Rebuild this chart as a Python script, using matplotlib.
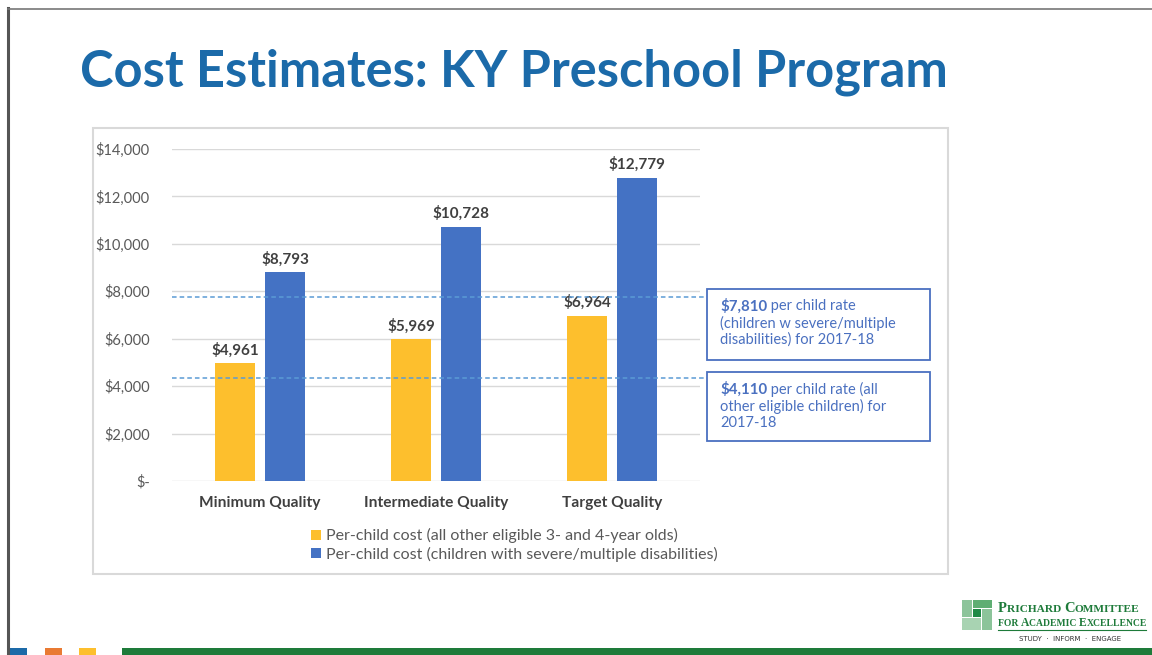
import matplotlib.pyplot as plt
import matplotlib.patches as mpatches
import numpy as np

W, H = 1152, 655

categories = ['Minimum Quality', 'Intermediate Quality', 'Target Quality']
cost_other = [4961, 5969, 6964]
cost_disab = [8793, 10728, 12779]
series_names = ['Per-child cost (all other eligible 3- and 4-year olds)',
                'Per-child cost (children with severe/multiple disabilities)']
# reference rates, as drawn in the picture
rate_disab_drawn = 7780
rate_other_drawn = 4350
yticks = [0, 2000, 4000, 6000, 8000, 10000, 12000, 14000]
ytick_labels = ['$-', '$2,000', '$4,000', '$6,000', '$8,000', '$10,000', '$12,000', '$14,000']

YELLOW = '#FDBF2D'
BLUE = '#4472C4'
TITLE_BLUE = '#1B6AA9'
NOTE_BLUE = '#4A70C0'
GRAY_TXT = '#595959'
LOGO_GREEN = '#1E7B3A'
FONT = 'Lato'


def fx(x):
    return x / W


def fy(y):
    return 1 - y / H


def run_text(fig, x0, y, pieces, **kw):
    # draw text pieces one after another (used for small caps)
    xpos = x0
    for s, size in pieces:
        t = fig.text(fx(xpos), fy(y), s, fontsize=size, va='baseline', ha='left', **kw)
        fig.canvas.draw()
        xpos = t.get_window_extent().x1
    return xpos


fig = plt.figure(figsize=(W / 100, H / 100), dpi=100)
fig.patch.set_facecolor('white')

# slide border
fig.add_artist(plt.Line2D([fx(8), fx(8)], [fy(8), fy(655)], color='#555555', lw=2.2))
fig.add_artist(plt.Line2D([fx(8), fx(1152)], [fy(9), fy(9)], color='#777777', lw=1.2))

# bottom colour strips
for x0, x1, c in [(10, 27, '#1C6AA8'), (45, 62, '#E97A33'), (79, 96, '#FDBF2D'), (122, 1152, LOGO_GREEN)]:
    fig.add_artist(mpatches.Rectangle((fx(x0), fy(655)), fx(x1 - x0), 7 / H, color=c, lw=0))

fig.text(fx(80), fy(72), 'Cost Estimates: KY Preschool Program', fontsize=36.4, fontweight='bold',
         color=TITLE_BLUE, family=FONT, va='center', ha='left')

# chart frame
fig.add_artist(mpatches.Rectangle((fx(93), fy(574)), fx(948 - 93), (574 - 128) / H, fill=False,
                                  ec='#D9D9D9', lw=1.5))

ax = fig.add_axes([fx(172), fy(481), fx(700 - 172), (481 - 149) / H])
x = np.arange(len(categories))
bw = 0.227
off = 0.142
ax.bar(x - off, cost_other, bw, color=YELLOW, zorder=3, label=series_names[0])
ax.bar(x + off, cost_disab, bw, color=BLUE, zorder=3, label=series_names[1])
for xi, v in zip(x - off, cost_other):
    ax.text(xi, v + 250, f'${v:,}', ha='center', va='bottom', fontsize=11, fontweight='bold',
            color='#404040', family=FONT)
for xi, v in zip(x + off, cost_disab):
    ax.text(xi, v + 250, f'${v:,}', ha='center', va='bottom', fontsize=11, fontweight='bold',
            color='#404040', family=FONT)

ax.set_xlim(-0.5, 2.5)
ax.set_ylim(0, 14000)
ax.set_yticks(yticks)
ax.set_yticklabels(ytick_labels, fontsize=10.5, color=GRAY_TXT, family=FONT)
ax.set_xticks(x)
ax.set_xticklabels(categories, fontsize=11.2, fontweight='bold', color='#404040', family=FONT)
ax.tick_params(axis='y', length=0, pad=16)
ax.tick_params(axis='x', length=0, pad=11)
ax.grid(axis='y', color='#D9D9D9', lw=1, zorder=0)
for s in ax.spines.values():
    s.set_visible(False)

x_end = (706 - 172) / 176 - 0.5
for lvl in [rate_disab_drawn, rate_other_drawn]:
    ax.plot([-0.5, x_end], [lvl, lvl], ls=(0, (3, 2)), color='#5B9BD5', lw=1.1, clip_on=False, zorder=4)

leg = ax.legend(loc='upper left', bbox_to_anchor=((305 - 172) / 528, -(522 - 481) / 332),
                frameon=False, handlelength=0.6, handleheight=0.6, handletextpad=0.3,
                labelspacing=0.2, borderaxespad=0, prop={'family': FONT, 'size': 11.5})
for t in leg.get_texts():
    t.set_color(GRAY_TXT)

# rate boxes
boxes = [
    (289, 360, '$7,810', ' per child rate', ['(children w severe/multiple', 'disabilities) for 2017-18']),
    (372, 441, '$4,110', ' per child rate (all', ['other eligible children) for', '2017-18']),
]
for y0, y1, amt, rest, lines in boxes:
    fig.add_artist(mpatches.Rectangle((fx(707), fy(y1)), fx(930 - 707), (y1 - y0) / H, fill=False,
                                      ec=NOTE_BLUE, lw=1.3))
    t = fig.text(fx(720), fy(y0 + 17), amt, fontsize=10.8, fontweight='bold', color=NOTE_BLUE,
                 family=FONT, va='center', ha='left')
    fig.canvas.draw()
    bb = t.get_window_extent()
    fig.text(bb.x1 / W, fy(y0 + 17), rest, fontsize=10.5, color=NOTE_BLUE, family=FONT,
             va='center', ha='left')
    for i, ln in enumerate(lines):
        fig.text(fx(720), fy(y0 + 34 + 17 * i), ln, fontsize=10.5, color=NOTE_BLUE, family=FONT,
                 va='center', ha='left')

# logo
logo = [(962, 600, 10, 17, '#8CC49A'), (973, 600, 19, 8, '#5FAE73'), (973, 609, 8, 8, '#1E8A45'),
        (982, 609, 10, 21, '#8CC49A'), (962, 618, 19, 12, '#A8D3B2')]
for lx, ly, lw_, lh, c in logo:
    fig.add_artist(mpatches.Rectangle((fx(lx), fy(ly + lh)), fx(lw_), lh / H, color=c, lw=0))
serif = dict(color=LOGO_GREEN, family='Liberation Serif', fontweight='bold')
run_text(fig, 998, 612, [('P', 10.5), ('RICHARD ', 8.2), ('C', 10.5), ('OMMITTEE', 8.2)], **serif)
run_text(fig, 998, 626, [('FOR ', 6.9), ('A', 8.4), ('CADEMIC ', 6.9), ('E', 8.4), ('XCELLENCE', 6.9)], **serif)
fig.add_artist(plt.Line2D([fx(998), fx(1146)], [fy(630), fy(630)], color=LOGO_GREEN, lw=0.8))
fig.text(fx(1070), fy(639), 'STUDY  \u00b7  INFORM  \u00b7  ENGAGE', fontsize=5, color='#333333',
         family='DejaVu Sans', va='center', ha='center')

fig.savefig('out.png', dpi=100)
